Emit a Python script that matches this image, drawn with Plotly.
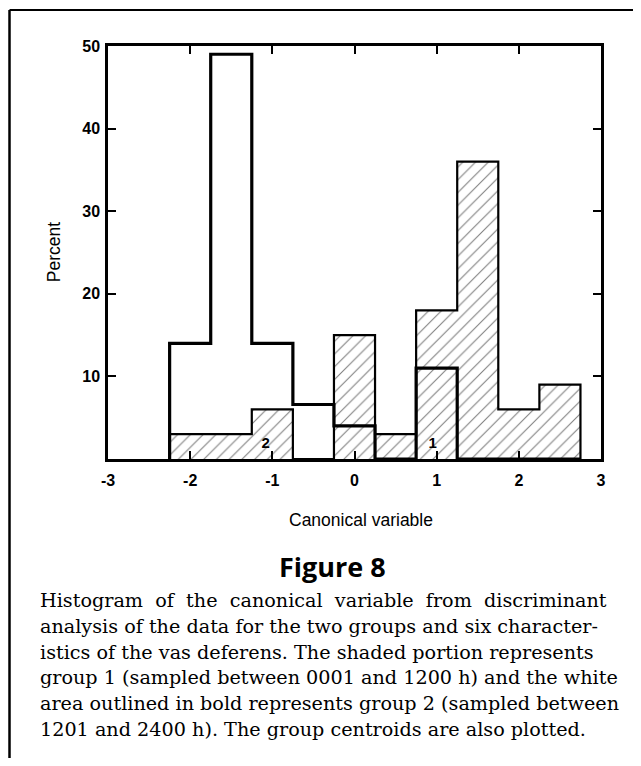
import plotly.graph_objects as go

# ---- data ----
bin_centers = [-2.0, -1.5, -1.0, -0.5, 0.0, 0.5, 1.0, 1.5, 2.0, 2.5]
bin_width = 0.5
group1_pct = [3, 3, 6, 0, 15, 3, 18, 36, 6, 9]       # shaded
group2_pct = [14, 49, 14, 6.6, 4, 0, 11, 0, 0, 0]    # white, bold outline
centroid_x = [0.95, -1.08]
centroid_y = [1.8, 1.8]
centroid_labels = ["1", "2"]
x_ticks = [-3, -2, -1, 0, 1, 2, 3]
y_ticks = [10, 20, 30, 40, 50]

caption_lines = [
    "Histogram of the canonical variable from discriminant",
    "analysis of the data for the two groups and six character-",
    "istics of the vas deferens. The shaded portion represents",
    "group 1 (sampled between 0001 and 1200 h) and the white",
    "area outlined in bold represents group 2 (sampled between",
    "1201 and 2400 h). The group centroids are also plotted.",
]


def step_outline(centers, values, width):
    edges = [c - width / 2 for c in centers] + [centers[-1] + width / 2]
    xs = [edges[0]] + edges
    ys = [0] + list(values) + [0]
    return xs, ys


fig = go.Figure()

fig.add_trace(go.Bar(
    x=bin_centers, y=group1_pct, width=bin_width,
    marker=dict(color="white", line=dict(width=0),
                pattern=dict(shape="/", fgcolor="black", bgcolor="white",
                             size=9, solidity=0.12)),
    showlegend=False, hoverinfo="skip",
))

x1, y1 = step_outline(bin_centers, group1_pct, bin_width)
fig.add_trace(go.Scatter(x=x1, y=y1, mode="lines", line_shape="hv",
                         line=dict(color="black", width=2.2),
                         showlegend=False, hoverinfo="skip"))

x2, y2 = step_outline(bin_centers, group2_pct, bin_width)
fig.add_trace(go.Scatter(x=x2, y=y2, mode="lines", line_shape="hv",
                         line=dict(color="black", width=3.2),
                         showlegend=False, hoverinfo="skip"))

fig.add_trace(go.Scatter(x=centroid_x, y=centroid_y, mode="text",
                         text=centroid_labels,
                         textfont=dict(family="Arial, Liberation Sans", size=15,
                                       color="black", weight="bold"),
                         showlegend=False, hoverinfo="skip"))

axis_common = dict(
    showline=True, linecolor="black", linewidth=2.5, mirror="ticks",
    ticks="inside", ticklen=8, tickwidth=2, tickcolor="black",
    showgrid=False, zeroline=False,
    tickfont=dict(family="Arial, Liberation Sans", size=16, color="black", weight="bold"),
)

fig.update_xaxes(range=[-3, 3], tickvals=x_ticks, ticktext=[str(t) for t in x_ticks],
                 ticklabelstandoff=5, **axis_common)
fig.update_yaxes(range=[0, 50], tickvals=y_ticks, ticktext=[str(t) for t in y_ticks],
                 ticklabelstandoff=2, **axis_common)

# page body has an 8px margin: work in window pixels and convert
OFF = 8
W, H = 625, 750
L, T = 108 - OFF, 45.5 - OFF
pw, ph = 493, 413.5
R = W - L - pw
B = H - T - ph


def px(wx):
    return (wx - OFF - L) / pw


def py(wy):
    return (T + ph - (wy - OFF)) / ph


caption_text = list(caption_lines)
caption_text[0] = caption_text[0].replace(" ", " \u00a0")

annotations = [
    dict(text="Percent", x=px(54), y=py(252), xref="paper", yref="paper",
         textangle=-90, showarrow=False, xanchor="center", yanchor="middle",
         font=dict(family="Arial, Liberation Sans", size=17.5, color="black")),
    dict(text="Canonical variable", x=px(361), y=py(520), xref="paper", yref="paper",
         showarrow=False, xanchor="center", yanchor="middle",
         font=dict(family="Arial, Liberation Sans", size=17.5, color="black")),
    dict(text="<b>Figure 8</b>", x=px(332), y=py(567), xref="paper", yref="paper",
         showarrow=False, xanchor="center", yanchor="middle",
         font=dict(family="Open Sans", size=27, color="black")),
]
line_y = [601, 627, 653, 678, 704, 730]
for txt, yy in zip(caption_text, line_y):
    annotations.append(dict(
        text=txt, x=px(38), y=py(yy), xref="paper", yref="paper",
        showarrow=False, xanchor="left", yanchor="middle",
        font=dict(family="DejaVu Serif", size=19.2, color="black")))

shapes = [
    dict(type="line", xref="paper", yref="paper", x0=px(9.5), x1=px(641), y0=py(9.5), y1=py(9.5),
         line=dict(color="black", width=2)),
    dict(type="line", xref="paper", yref="paper", x0=px(9.5), x1=px(9.5), y0=py(9.5), y1=py(766),
         line=dict(color="black", width=2.5)),
]

fig.update_layout(
    width=W, height=H,
    margin=dict(l=L, r=R, t=T, b=B),
    paper_bgcolor="white", plot_bgcolor="white",
    bargap=0, showlegend=False,
    annotations=annotations, shapes=shapes,
)

fig.write_html("out.html")
